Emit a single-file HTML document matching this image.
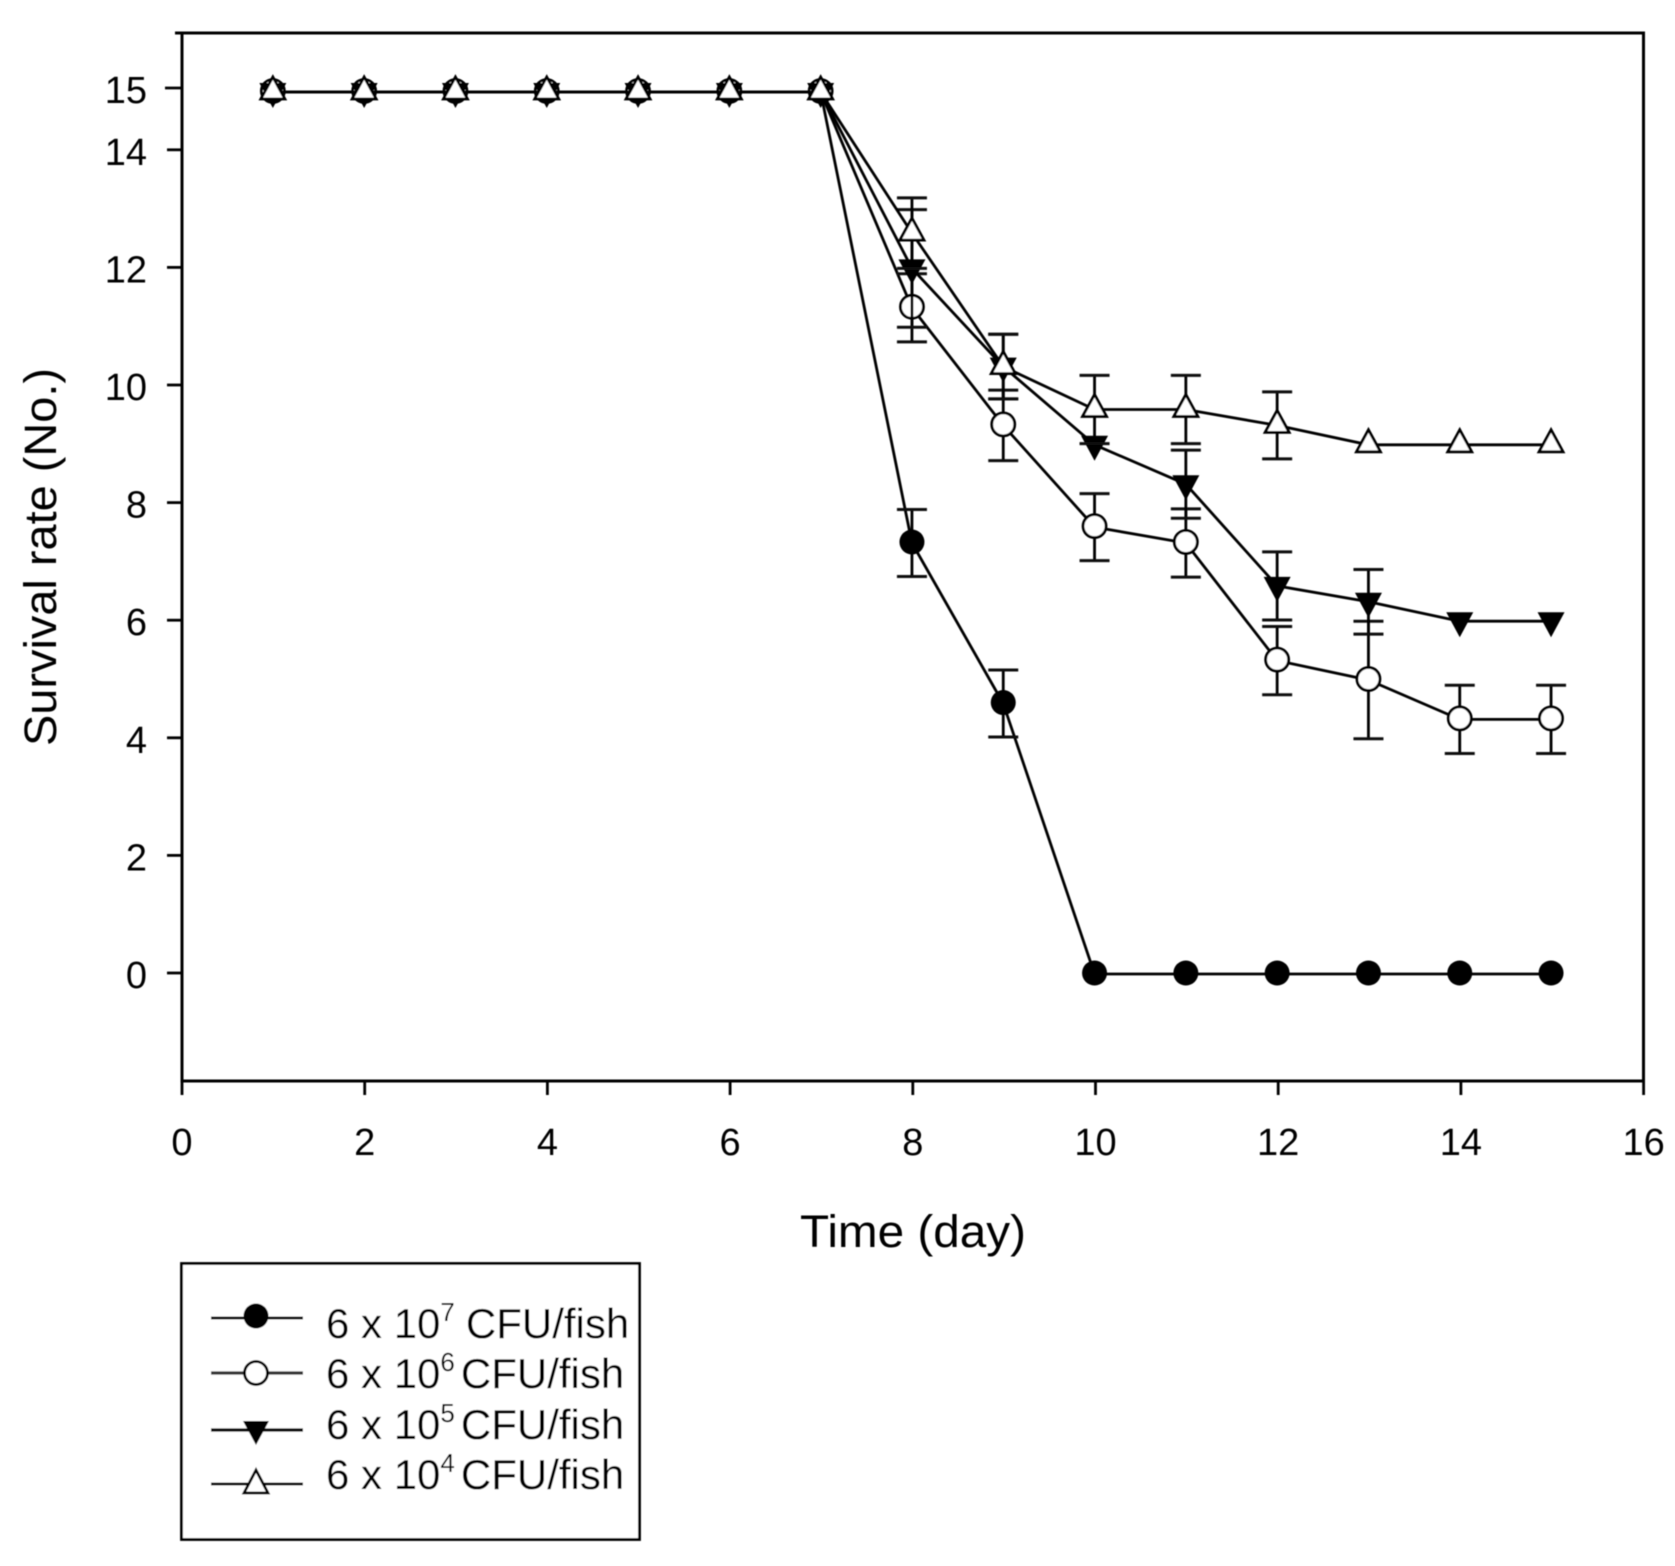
<!DOCTYPE html>
<html lang="en">
<head>
<meta charset="utf-8">
<title>Survival rate over time</title>
<style>
  html, body { margin: 0; padding: 0; background: #fff; }
  #chart { display: block; width: 1675px; height: 1566px; }
  text { font-family: "Liberation Sans", sans-serif; fill: #000; }
  .tick-label { font-size: 38px; }
  .axis-title { font-size: 45px; }
  .legend-text { font-size: 42px; }
  .legend-sup { font-size: 26px; }
</style>
</head>
<body>
<svg id="chart" xmlns="http://www.w3.org/2000/svg" width="1675" height="1566" viewBox="0 0 1675 1566">
  <defs>
    <filter id="soft" x="-2%" y="-2%" width="104%" height="104%"><feGaussianBlur stdDeviation="0.5"/></filter>
  </defs>
  <g filter="url(#soft)">
    <rect x="182" y="33" width="1461.5" height="1048" fill="none" stroke="#000" stroke-width="3"/>
    <line x1="175" y1="33" x2="182" y2="33" stroke="#000" stroke-width="3"/>
    <g id="axes"></g>
    <g id="series"></g>
    <text class="axis-title" x="913" y="1247" text-anchor="middle" textLength="226" lengthAdjust="spacingAndGlyphs">Time (day)</text>
    <text class="axis-title" transform="translate(56,557) rotate(-90)" text-anchor="middle" textLength="378" lengthAdjust="spacingAndGlyphs">Survival rate (No.)</text>

    <g>
      <rect x="181.5" y="1263.5" width="458" height="276" fill="#fff" stroke="#000" stroke-width="2.8"/>

      <g>
        <line x1="211" y1="1318" x2="303" y2="1318" stroke="#000" stroke-width="2.8"/>
        <circle cx="256" cy="1316" r="12.5" fill="#000"/>
        <text class="legend-text" x="326" y="1338">6 x 10<tspan class="legend-sup" dy="-17">7</tspan><tspan dy="17" dx="11">CFU/fish</tspan></text>
      </g>
      <g>
        <line x1="211" y1="1373" x2="303" y2="1373" stroke="#333" stroke-width="3.2"/>
        <circle cx="256" cy="1373" r="11.5" fill="#fff" stroke="#000" stroke-width="2.8"/>
        <text class="legend-text" x="326" y="1388">6 x 10<tspan class="legend-sup" dy="-17">6</tspan><tspan dy="17" dx="6">CFU/fish</tspan></text>
      </g>
      <g>
        <line x1="211" y1="1430" x2="303" y2="1430" stroke="#000" stroke-width="3.2"/>
        <polygon points="243,1421 269,1421 256,1445" fill="#000"/>
        <text class="legend-text" x="326" y="1439">6 x 10<tspan class="legend-sup" dy="-17">5</tspan><tspan dy="17" dx="6">CFU/fish</tspan></text>
      </g>
      <g>
        <line x1="211" y1="1484" x2="303" y2="1484" stroke="#000" stroke-width="2.8"/>
        <polygon points="256,1470 268,1493 244,1493" fill="#fff" stroke="#000" stroke-width="2.8"/>
        <text class="legend-text" x="326" y="1489">6 x 10<tspan class="legend-sup" dy="-17">4</tspan><tspan dy="17" dx="6">CFU/fish</tspan></text>
      </g>
    </g>
  </g>
</svg>

<script>
const days = [1, 2, 3, 4, 5, 6, 7, 8, 9, 10, 11, 12, 13, 14, 15];
const xTickLabels = [0, 2, 4, 6, 8, 10, 12, 14, 16];
const yTickLabels = [0, 2, 4, 6, 8, 10, 12, 14, 15];

const valuesA = [15, 15, 15, 15, 15, 15, 15, 7.33, 4.6, 0, 0, 0, 0, 0, 0];
const errorsA = [0, 0, 0, 0, 0, 0, 0, 0.57, 0.57, 0, 0, 0, 0, 0, 0];

const valuesB = [15, 15, 15, 15, 15, 15, 15, 11.33, 9.33, 7.6, 7.33, 5.33, 5, 4.33, 4.33];
const errorsB = [0, 0, 0, 0, 0, 0, 0, 0.58, 0.6, 0.57, 0.58, 0.58, 1, 0.58, 0.58];

const valuesC = [15, 15, 15, 15, 15, 15, 15, 12, 10.33, 9, 8.33, 6.6, 6.33, 6, 6];
const errorsC = [0, 0, 0, 0, 0, 0, 0, 1, 0.55, 0, 0.58, 0.58, 0.55, 0, 0];

const valuesD = [15, 15, 15, 15, 15, 15, 15, 12.6, 10.33, 9.6, 9.6, 9.33, 9, 9, 9];
const errorsD = [0, 0, 0, 0, 0, 0, 0, 0.6, 0.55, 0.58, 0.58, 0.57, 0, 0, 0];

const NS = 'http://www.w3.org/2000/svg';
const axesLayer = document.getElementById('axes');
const seriesLayer = document.getElementById('series');

function xAxis(v) { return 181.5 + v * 91.35 - (v > 1 ? (v - 1) * 0.05 : 0); }
function xTickPos(v) { return 182 + v * 91.35; }
function yAxis(v) { return 974 - v * 58.8; }
function yTickPos(v) { return yAxis(v) - (v === 15 ? 4 : 1); }

function make(tag, attrs, parent) {
  const node = document.createElementNS(NS, tag);
  for (const key in attrs) node.setAttribute(key, attrs[key]);
  parent.appendChild(node);
  return node;
}

xTickLabels.forEach(function (v) {
  const tick = make('line', { x1: xTickPos(v), x2: xTickPos(v), y1: 1081, y2: 1095, stroke: '#000', 'stroke-width': 2.8 }, axesLayer);
  
  
  const label = make('text', { x: xTickPos(v), y: 1155, 'text-anchor': 'middle', class: 'tick-label' }, axesLayer);
  label.textContent = v;
  
  
});

yTickLabels.forEach(function (v) {
  const y = yTickPos(v);
  const tick = make('line', { x1: v === 15 ? 165 : 167, x2: 182, y1: y, y2: y, stroke: '#000', 'stroke-width': 2.8 }, axesLayer);
  
  
  const label = make('text', { x: 147, y: y + 15, 'text-anchor': 'end', class: 'tick-label' }, axesLayer);
  label.textContent = v;
  
  
});

function drawMarker(kind, cx, cy, parent) {
  let mark;
  if (kind === 'filled-circle') {
    mark = make('circle', { cx: cx, cy: cy - 1, r: 12.5, fill: '#000' }, parent);
  } else if (kind === 'open-circle') {
    mark = make('circle', { cx: cx, cy: cy - 1, r: 11.5, fill: '#fff', stroke: '#000', 'stroke-width': 2.8 }, parent);
  } else if (kind === 'filled-down') {
    mark = make('polygon', { points: (cx - 13.5) + ',' + (cy - 9) + ' ' + (cx + 13.5) + ',' + (cy - 9) + ' ' + cx + ',' + (cy + 16), fill: '#000' }, parent);
  } else {
    mark = make('polygon', { points: cx + ',' + (cy - 15) + ' ' + (cx + 12) + ',' + (cy + 7) + ' ' + (cx - 12) + ',' + (cy + 7), fill: '#fff', stroke: '#000', 'stroke-width': 2.8 }, parent);
  }
  
  
}

function drawSeries(name, kind, values, errors) {
  const group = make('g', {}, seriesLayer);
  
  

  const pts = days.map(function (d, i) { return xAxis(d) + ',' + yAxis(values[i]); }).join(' ');
  const path = make('polyline', { points: pts, fill: 'none', stroke: '#000', 'stroke-width': 2.8 }, group);
  
  

  days.forEach(function (d, i) {
    if (!errors[i]) return;
    const x = xAxis(d);
    const top = yAxis(values[i] + errors[i]);
    const bottom = yAxis(values[i] - errors[i]);
    const stem = make('line', { x1: x, x2: x, y1: top, y2: bottom, stroke: '#000', 'stroke-width': 2.8 }, group);
    
    
    [top, bottom].forEach(function (y) {
      const cap = make('line', { x1: x - 15, x2: x + 15, y1: y, y2: y, stroke: '#111', 'stroke-width': 3 }, group);
      
      
    });
  });

  days.forEach(function (d, i) {
    drawMarker(kind, xAxis(d), yAxis(values[i]), group);
  });
}

drawSeries('series-6e7', 'filled-circle', valuesA, errorsA);
drawSeries('series-6e6', 'open-circle', valuesB, errorsB);
drawSeries('series-6e5', 'filled-down', valuesC, errorsC);
drawSeries('series-6e4', 'open-up', valuesD, errorsD);
</script>
</body>
</html>
